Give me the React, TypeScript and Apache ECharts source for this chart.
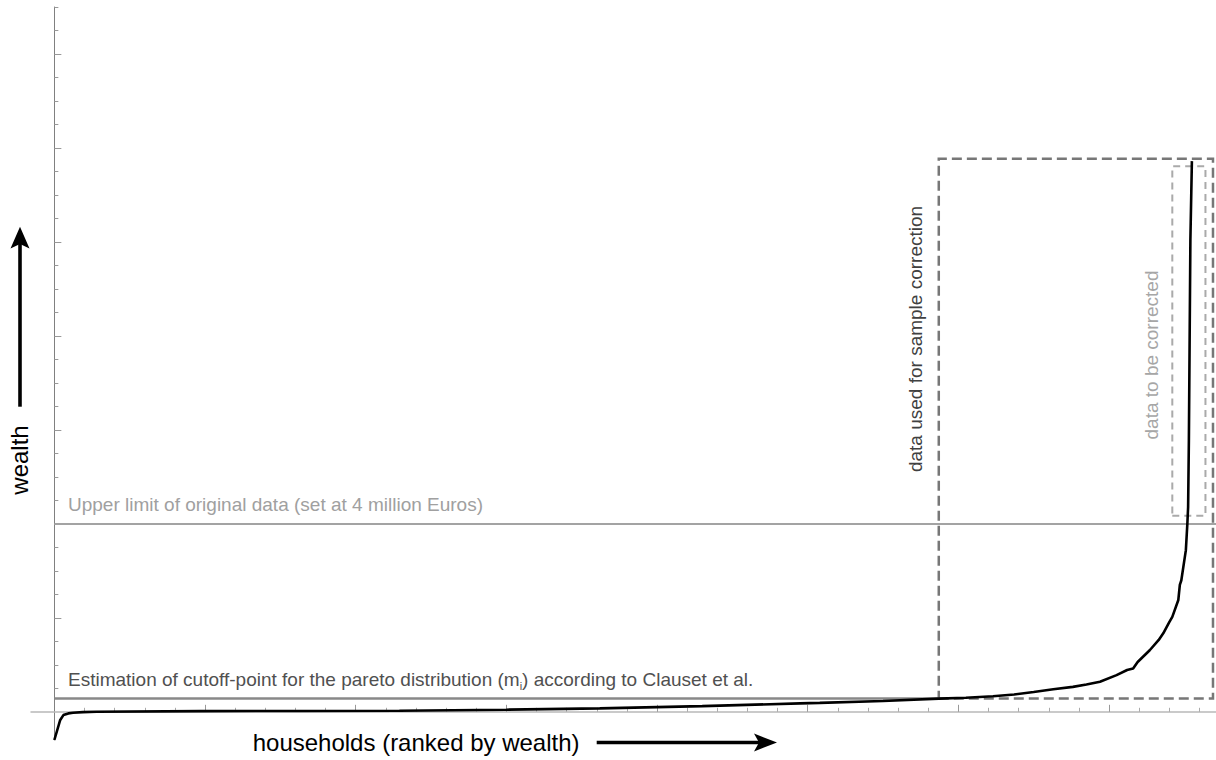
import React, { useEffect, useRef } from "react";
import * as echarts from "echarts";

// Curve: households ranked by wealth (x, arbitrary rank units) vs wealth (million Euros)
const households = [0, 0.038, 0.06, 0.093, 0.124, 0.19, 0.28, 0.97, 1.63, 2.29, 3.0, 3.62, 4.3, 4.95, 5.08, 5.5, 5.87, 6.05, 6.23, 6.37, 6.5, 6.63, 6.76, 6.85, 6.94, 7.05, 7.12, 7.16, 7.19, 7.27, 7.33, 7.36, 7.4, 7.42, 7.46, 7.47, 7.48, 7.51, 7.52, 7.525, 7.53, 7.535, 7.54, 7.55];
const wealth = [-0.6, -0.18, -0.07, -0.034, -0.021, -0.006, 0, 0.015, 0.018, 0.021, 0.045, 0.072, 0.12, 0.18, 0.19, 0.23, 0.28, 0.3, 0.33, 0.37, 0.42, 0.48, 0.53, 0.58, 0.64, 0.78, 0.89, 0.92, 1.06, 1.31, 1.53, 1.67, 1.91, 2.02, 2.38, 2.7, 2.8, 3.44, 4.01, 4.36, 5.78, 7.91, 10.04, 11.72];

// Reference levels
const cutoffWealth = 0.285;
const cutoffEndRank = 5.87;
const upperLimitWealth = 4;

// Dashed boxes [min, max]
const sampleRanks = [5.87, 7.69];
const sampleWealth = [0.285, 11.77];
const correctedRanks = [7.42, 7.64];
const correctedWealth = [4.17, 11.61];

// Axis extents and ticks
const xRange = [-0.155, 7.71];
const yRange = [-0.6, 15];
const xMajorTicks = [1, 2, 3, 4, 5, 6, 7];
const xMinorTicks = [0.2, 0.4, 0.6, 0.8, 1.2, 1.4, 1.6, 1.8, 2.2, 2.4, 2.6, 2.8, 3.2, 3.4, 3.6, 3.8, 4.2, 4.4, 4.6, 4.8, 5.2, 5.4, 5.6, 5.8, 6.2, 6.4, 6.6, 6.8, 7.2, 7.4, 7.6];
const yMajorTicks = [2, 4, 6, 8, 10, 12, 14];
const yMinorTicks = [0.5, 1, 1.5, 2.5, 3, 3.5, 4.5, 5, 5.5, 6.5, 7, 7.5, 8.5, 9, 9.5, 10.5, 11, 11.5, 12.5, 13, 13.5, 14.5, 15];

const FONT = '"Liberation Sans", Arial, sans-serif';

export default function App() {
  const ref = useRef<HTMLDivElement>(null);
  useEffect(() => {
    if (!ref.current) return;
    const chart = echarts.init(ref.current, undefined, { renderer: "svg" });
    const xAxisBase = () => ({
      type: "value",
      min: xRange[0],
      max: xRange[1],
      position: "bottom",
      axisLabel: { show: false },
      splitLine: { show: false },
    });
    const yAxisBase = () => ({
      type: "value",
      min: yRange[0],
      max: yRange[1],
      position: "left",
      axisLabel: { show: false },
      splitLine: { show: false },
    });
    const option: any = {
      animation: false,
      backgroundColor: "#ffffff",
      grid: { left: 31, right: 0, top: 7, bottom: 20 },
      xAxis: [
        {
          ...xAxisBase(),
          axisLine: { show: true, onZero: true, onZeroAxisIndex: 0, lineStyle: { color: "#b8b8b8", width: 1.5 } },
          axisTick: { show: true, inside: true, length: 7, customValues: xMajorTicks, lineStyle: { color: "#999999", width: 1 } },
        },
        {
          ...xAxisBase(),
          axisLine: { show: false, onZero: true, onZeroAxisIndex: 0 },
          axisTick: { show: true, inside: true, length: 4, customValues: xMinorTicks, lineStyle: { color: "#aaaaaa", width: 1 } },
        },
      ],
      yAxis: [
        {
          ...yAxisBase(),
          axisLine: { show: true, onZero: true, onZeroAxisIndex: 0, lineStyle: { color: "#808080", width: 1 } },
          axisTick: { show: true, inside: true, length: 7, customValues: yMajorTicks, lineStyle: { color: "#999999", width: 1 } },
        },
        {
          ...yAxisBase(),
          axisLine: { show: false, onZero: true, onZeroAxisIndex: 0 },
          axisTick: { show: true, inside: true, length: 4, customValues: yMinorTicks, lineStyle: { color: "#999999", width: 1 } },
        },
      ],
      series: [
        {
          type: "line",
          name: "boxes",
          data: [],
          silent: true,
          markArea: {
            silent: true,
            label: { show: false },
            data: [
              [
                { coord: [sampleRanks[0], sampleWealth[0]], itemStyle: { color: "rgba(0,0,0,0)", borderColor: "#777777", borderWidth: 2.5, borderType: [10, 5] } },
                { coord: [sampleRanks[1], sampleWealth[1]] },
              ],
              [
                { coord: [correctedRanks[0], correctedWealth[0]], itemStyle: { color: "rgba(0,0,0,0)", borderColor: "#aaaaaa", borderWidth: 2, borderType: [7, 5] } },
                { coord: [correctedRanks[1], correctedWealth[1]] },
              ],
            ],
          },
          markLine: {
            silent: true,
            symbol: "none",
            label: { show: false },
            data: [
              [
                { coord: [0, upperLimitWealth], lineStyle: { color: "#a3a3a3", width: 2, type: "solid" } },
                { coord: [xRange[1], upperLimitWealth] },
              ],
              [
                { coord: [0, cutoffWealth], lineStyle: { color: "#888888", width: 2.5, type: "solid" } },
                { coord: [cutoffEndRank, cutoffWealth] },
              ],
            ],
          },
        },
        {
          type: "line",
          name: "wealth",
          data: households.map((x, i) => [x, wealth[i]]),
          showSymbol: false,
          symbol: "none",
          lineStyle: { color: "#000000", width: 2.6 },
          silent: true,
          z: 5,
        },
      ],
      graphic: [
        {
          type: "text",
          x: 68,
          y: 504,
          style: { text: "Upper limit of original data (set at 4 million Euros)", fill: "#a0a0a0", fontSize: 19, fontFamily: FONT, verticalAlign: "middle" },
        },
        {
          type: "text",
          x: 68,
          y: 679,
          style: {
            text: "Estimation of cutoff-point for the pareto distribution (m{sub|i}) according to Clauset et al.",
            fill: "#505050",
            fontSize: 19,
            fontFamily: FONT,
            lineHeight: 24,
            verticalAlign: "middle",
            rich: { sub: { fontSize: 11, lineHeight: 6, verticalAlign: "bottom", fill: "#505050", fontFamily: FONT } },
          },
        },
        {
          type: "text",
          x: 915,
          y: 339,
          rotation: Math.PI / 2,
          style: { text: "data used for sample correction", fill: "#404040", fontSize: 19, fontFamily: FONT, align: "center", verticalAlign: "middle" },
        },
        {
          type: "text",
          x: 1151.7,
          y: 355,
          rotation: Math.PI / 2,
          style: { text: "data to be corrected", fill: "#a6a6a6", fontSize: 19, fontFamily: FONT, align: "center", verticalAlign: "middle" },
        },
        {
          type: "text",
          x: 19.5,
          y: 460,
          rotation: Math.PI / 2,
          style: { text: "wealth", fill: "#000000", fontSize: 24, fontFamily: FONT, align: "center", verticalAlign: "middle" },
        },
        {
          type: "text",
          x: 252.7,
          y: 742.5,
          style: { text: "households (ranked by wealth)", fill: "#000000", fontSize: 24, fontFamily: FONT, verticalAlign: "middle" },
        },
        {
          type: "line",
          shape: { x1: 20, y1: 406.7, x2: 20, y2: 242 },
          style: { stroke: "#000000", lineWidth: 3.6 },
        },
        {
          type: "polygon",
          shape: { points: [[20, 226.7], [29.5, 248.5], [20, 244], [10.5, 248.5]] },
          style: { fill: "#000000" },
        },
        {
          type: "line",
          shape: { x1: 596.7, y1: 742.5, x2: 762, y2: 742.5 },
          style: { stroke: "#000000", lineWidth: 3.6 },
        },
        {
          type: "polygon",
          shape: { points: [[777, 742.5], [754, 733.5], [759, 742.5], [754, 751.5]] },
          style: { fill: "#000000" },
        },
      ],
    };
    chart.setOption(option);
    return () => chart.dispose();
  }, []);
  return (
    <div
      ref={ref}
      style={{ position: "absolute", left: 0, top: 0, width: 1216, height: 760, background: "#ffffff" }}
    />
  );
}
